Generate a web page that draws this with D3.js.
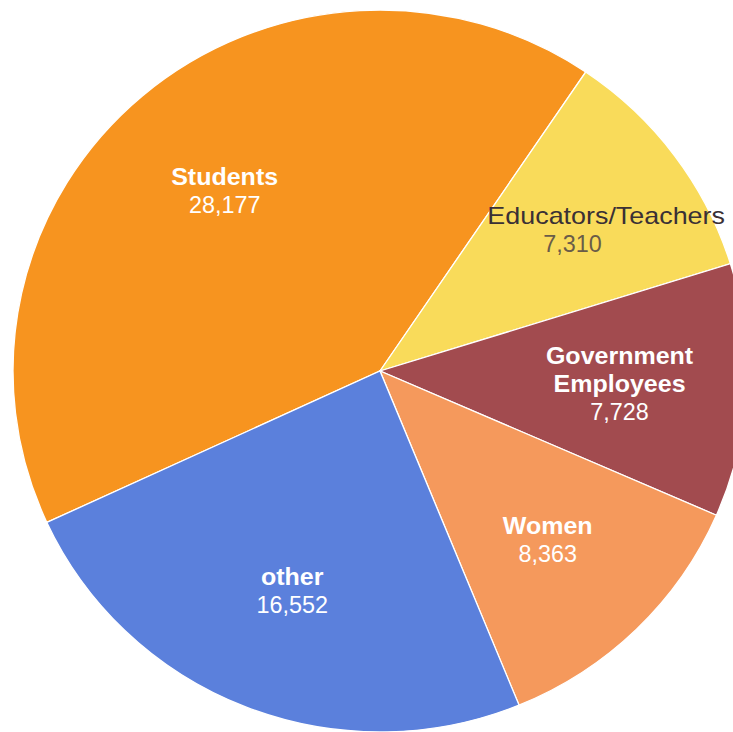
<!DOCTYPE html>
<html lang="en">
<head>
    <script src="https://d3js.org/d3.v7.min.js"></script>
    <style>
        body { margin: 0; background: #fff; }
        text { font-family: "Liberation Sans", Arial, sans-serif; }
    </style>
</head>
<body>
    <svg width="733" height="732"></svg>
    <script>
        // slices in clockwise order, starting at the lower-left edge
        const categories = ["Students", "Educators/Teachers", "Government Employees", "Women", "other"];
        const nameLines = [["Students"], ["Educators/Teachers"], ["Government", "Employees"], ["Women"], ["other"]];
        const values = [28177, 7310, 7728, 8363, 16552];
        const colors = ["#f7941f", "#f9db5a", "#a24b4f", "#f5995c", "#5b80dc"];

        const cx = 380, cy = 371, r = 361;
        const stretchX = 1.0166; // reference pie is a touch wider than tall
        const labelR = 236;
        const lineH = 28;

        const svg = d3.select("svg");
        const g = svg.append("g")
            .attr("transform", `translate(${cx},${cy}) scale(${stretchX},1)`);

        const data = categories.map((c, i) => ({name: c, lines: nameLines[i], value: values[i], color: colors[i]}));

        const startA = -114.8 * Math.PI / 180;
        const pie = d3.pie()
            .sort(null)
            .value(d => d.value)
            .startAngle(startA)
            .endAngle(startA + 2 * Math.PI);

        const arcs = pie(data);
        const arc = d3.arc().innerRadius(0).outerRadius(r);
        const labelArc = d3.arc().innerRadius(labelR).outerRadius(labelR);

        g.selectAll("path")
            .data(arcs)
            .join("path")
            .attr("d", arc)
            .attr("fill", d => d.data.color)
            .attr("stroke", "#fff")
            .attr("stroke-width", 1.3);

        const fmt = d3.format(",");

        const label = g.selectAll("g.label")
            .data(arcs)
            .join("g")
            .attr("class", "label")
            .attr("transform", d => {
                const [x, y] = labelArc.centroid(d);
                return `translate(${x},${y})`;
            });

        label.each(function(d) {
            const sel = d3.select(this);
            const dark = d.data.name === "Educators/Teachers";
            const lines = d.data.lines.slice();
            lines.push(fmt(d.data.value));
            const n = lines.length;
            lines.forEach((t, i) => {
                const isName = i < n - 1;
                const sx = isName ? (dark ? 1.15 : 1.07) : 1;
                const y = (i - (n - 1) / 2) * lineH + 8;
                sel.append("text")
                    .attr("transform", `translate(${dark && isName ? 33 : 0},${y}) scale(${sx},1)`)
                    .attr("text-anchor", "middle")
                    .attr("font-size", 23)
                    .attr("font-weight", isName && !dark ? "bold" : "normal")
                    .attr("fill", dark ? (isName ? "#3a3035" : "#6a5c48") : "#fff")
                    .text(t);
            });
        });
    </script>
</body>
</html>
